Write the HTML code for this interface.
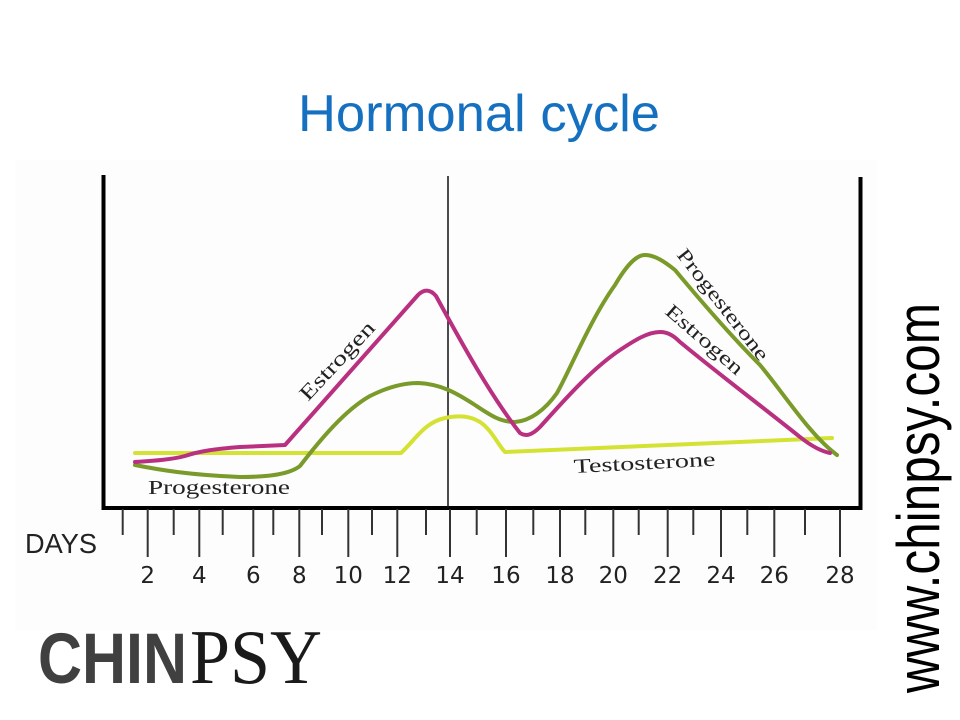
<!DOCTYPE html>
<html>
<head>
<meta charset="utf-8">
<style>
html,body{margin:0;padding:0;background:#fff;}
svg{display:block;}
</style>
</head>
<body>
<svg width="960" height="720" viewBox="0 0 960 720" xmlns="http://www.w3.org/2000/svg">
<rect x="0" y="0" width="960" height="720" fill="#ffffff"/>
<rect x="15" y="160" width="862" height="470" fill="#fdfdfd"/>

<!-- Title -->
<text x="298" y="131" font-family="Liberation Sans, sans-serif" font-size="52" fill="#1570c0" textLength="362" lengthAdjust="spacingAndGlyphs">Hormonal cycle</text>

<!-- Axes -->
<line x1="103.5" y1="175" x2="103.5" y2="510" stroke="#000" stroke-width="4"/>
<line x1="860.5" y1="177" x2="860.5" y2="510" stroke="#000" stroke-width="4"/>
<line x1="101.5" y1="508" x2="862.5" y2="508" stroke="#000" stroke-width="4"/>
<line x1="448" y1="176" x2="448" y2="508" stroke="#111" stroke-width="1.5"/>

<!-- Ticks -->
<g stroke="#333" stroke-width="2">
<line x1="147.7" y1="509" x2="147.7" y2="557"/>
<line x1="199.3" y1="509" x2="199.3" y2="557"/>
<line x1="253.3" y1="509" x2="253.3" y2="557"/>
<line x1="299.3" y1="509" x2="299.3" y2="557"/>
<line x1="348.3" y1="509" x2="348.3" y2="557"/>
<line x1="397.3" y1="509" x2="397.3" y2="557"/>
<line x1="450" y1="509" x2="450" y2="557"/>
<line x1="506" y1="509" x2="506" y2="557"/>
<line x1="560" y1="509" x2="560" y2="557"/>
<line x1="613.3" y1="509" x2="613.3" y2="557"/>
<line x1="667.7" y1="509" x2="667.7" y2="557"/>
<line x1="721" y1="509" x2="721" y2="557"/>
<line x1="774.3" y1="509" x2="774.3" y2="557"/>
<line x1="840" y1="509" x2="840" y2="557"/>

<line x1="122.7" y1="509" x2="122.7" y2="535"/>
<line x1="173.7" y1="509" x2="173.7" y2="535"/>
<line x1="222.7" y1="509" x2="222.7" y2="535"/>
<line x1="273.3" y1="509" x2="273.3" y2="535"/>
<line x1="322" y1="509" x2="322" y2="535"/>
<line x1="372" y1="509" x2="372" y2="535"/>
<line x1="426" y1="509" x2="426" y2="535"/>
<line x1="476.7" y1="509" x2="476.7" y2="535"/>
<line x1="533.3" y1="509" x2="533.3" y2="535"/>
<line x1="585.3" y1="509" x2="585.3" y2="535"/>
<line x1="638.7" y1="509" x2="638.7" y2="535"/>
<line x1="693.3" y1="509" x2="693.3" y2="535"/>
<line x1="747.3" y1="509" x2="747.3" y2="535"/>
<line x1="805" y1="509" x2="805" y2="535"/>
</g>

<!-- Tick labels -->
<g font-family="DejaVu Sans, sans-serif" font-size="23" fill="#222" text-anchor="middle">
<text x="147.7" y="583">2</text>
<text x="199.3" y="583">4</text>
<text x="253.3" y="583">6</text>
<text x="299.3" y="583">8</text>
<text x="348.3" y="583">10</text>
<text x="397.3" y="583">12</text>
<text x="450" y="583">14</text>
<text x="506" y="583">16</text>
<text x="560" y="583">18</text>
<text x="613.3" y="583">20</text>
<text x="667.7" y="583">22</text>
<text x="721" y="583">24</text>
<text x="774.3" y="583">26</text>
<text x="840" y="583">28</text>
</g>
<text x="25" y="553" font-family="Liberation Sans, sans-serif" font-size="28" fill="#222" textLength="72" lengthAdjust="spacingAndGlyphs">DAYS</text>

<!-- Curves -->
<g fill="none" stroke-width="4" stroke-linecap="round" stroke-linejoin="round">
<path stroke="#d4e234" d="M135,453 L401,453 C415,440 425,422 445,418 C460,415 470,416 480,422 C492,430 498,445 505,452 L832,438"/>
<path stroke="#7a9a2a" d="M135,465 C160,470 190,475 240,477 C270,477 290,474 300,466 C320,440 345,410 370,396 C390,386 405,383 418,383 C440,384 455,392 475,405 C490,415 500,422 515,422 C530,421 545,410 557,393 C570,370 590,320 615,285 C625,268 635,255 645,255 C655,255 665,262 675,270 C700,300 730,335 760,365 C785,395 810,435 837,455"/>
<path stroke="#b8307f" d="M135,462 C150,461 170,460 185,456 C200,451 215,449 240,447 L285,445 L418,295 C424,289 430,289 436,296 C460,340 490,395 520,433 C526,437 532,435 540,427 C560,405 590,370 620,350 C635,340 648,332 660,332 C668,332 674,336 680,342 C720,375 760,405 800,437 C810,445 820,451 830,453"/>
</g>

<!-- Curve labels -->
<g font-family="Liberation Serif, serif" fill="#222">
<text x="148" y="494" font-size="20" textLength="142" lengthAdjust="spacingAndGlyphs">Progesterone</text>
<text transform="translate(308,402) rotate(-47)" font-size="21" textLength="100" lengthAdjust="spacingAndGlyphs">Estrogen</text>
<text transform="translate(574,473) rotate(-3)" font-size="20" textLength="142" lengthAdjust="spacingAndGlyphs">Testosterone</text>
<text transform="translate(676,255) rotate(52)" font-size="20" textLength="136" lengthAdjust="spacingAndGlyphs">Progesterone</text>
<text transform="translate(664,313) rotate(41)" font-size="20" textLength="96" lengthAdjust="spacingAndGlyphs">Estrogen</text>
</g>

<!-- Side URL -->
<text transform="translate(939,693) rotate(-90)" font-family="Liberation Sans, sans-serif" font-size="60" fill="#000" textLength="390" lengthAdjust="spacingAndGlyphs">www.chinpsy.com</text>

<!-- Logo -->
<text x="38" y="683" font-family="Liberation Sans, sans-serif" font-weight="bold" font-size="71" fill="#404040" textLength="149" lengthAdjust="spacingAndGlyphs">CHIN</text>
<text x="190" y="683" font-family="Liberation Serif, serif" font-size="77" fill="#1a1a1a" textLength="132" lengthAdjust="spacingAndGlyphs">PSY</text>
</svg>
</body>
</html>
